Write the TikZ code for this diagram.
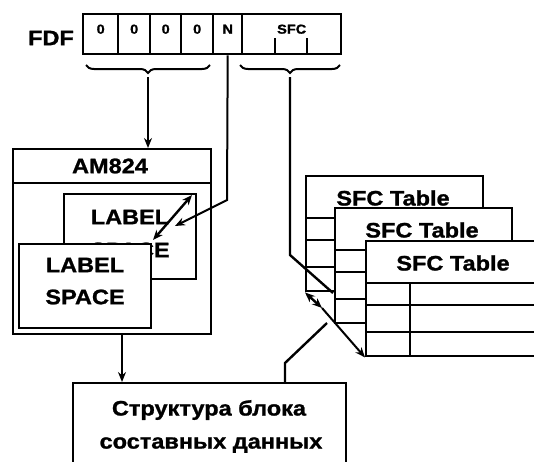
\documentclass[tikz,border=0pt]{standalone}
\usepackage{fontspec}
\setmainfont{Liberation Sans}[FakeStretch=1.12,BoldFeatures={FakeBold=1.2}]
\usetikzlibrary{decorations.pathreplacing,arrows.meta}
\begin{document}
\begin{tikzpicture}[x=1pt,y=-1pt,
  lw/.style={line width=2.4pt},
  box/.style={draw,line width=2.4pt,inner sep=0pt},
  big/.style={font=\fontsize{21}{23}\selectfont\bfseries,inner sep=0pt},
  tbl/.style={font=\fontsize{21}{23}\selectfont\bfseries,inner sep=0pt},
  small/.style={font=\fontsize{13}{14}\selectfont\bfseries,inner sep=0pt},
  arr/.style={line width=2pt,-{Stealth[length=10pt,width=8pt]}},
  darr/.style={line width=2.4pt,{Stealth[length=10pt,width=8pt]}-{Stealth[length=10pt,width=8pt]}},
  brc/.style={line width=2pt,decorate,decoration={brace,mirror,amplitude=8pt}},
  sfctable/.pic={
    \node[box,fill=white,minimum width=177pt,minimum height=115pt,anchor=north west] (-frame) at (0,0) {};
    \draw[lw] (0,43) -- (177,43);
    \draw[lw] (0,65) -- (177,65);
    \draw[lw] (0,92) -- (177,92);
    \draw[lw] (45,43) -- (45,115);
    \node[tbl] (-title) at (88,23) {SFC Table};
  }
]
\fill[white] (0,0) rectangle (534,461);
\useasboundingbox (0,0) rectangle (534,461);
\clip (0,0) rectangle (534,461);

% FDF field
\node[big] (fdf) at (51,38) {FDF};
\node[box,minimum width=35pt,minimum height=40pt,anchor=north west] (c1) at (82,13) {};
\node[box,minimum width=32pt,minimum height=40pt,anchor=north west] (c2) at (117,13) {};
\node[box,minimum width=31pt,minimum height=40pt,anchor=north west] (c3) at (149,13) {};
\node[box,minimum width=32pt,minimum height=40pt,anchor=north west] (c4) at (180,13) {};
\node[box,minimum width=29pt,minimum height=40pt,anchor=north west] (cN) at (212,13) {};
\node[box,minimum width=99pt,minimum height=40pt,anchor=north west] (cS) at (241,13) {};
\node[small] (t1x) at ([yshift=5pt]c1.center) {0};
\node[small] (t2x) at ([yshift=5pt]c2.center) {0};
\node[small] (t3x) at ([yshift=5pt]c3.center) {0};
\node[small] (t4x) at ([yshift=5pt]c4.center) {0};
\node[small] (tNx) at ([yshift=5pt]cN.center) {N};
\node[small] (tSx) at ([yshift=5pt]cS.center) {SFC};
\draw[line width=1.8pt] (275,38) -- (275,53);
\draw[line width=1.8pt] (307,38) -- (307,53);

% braces
\draw[brc] (86,65) -- (210,65);
\draw[brc] (240,65) -- (340,65);
\coordinate (b1) at (148,77);
\coordinate (b2) at (290,77);

% AM824 block
\node[box,minimum width=198pt,minimum height=185pt,anchor=north west] (am) at (12,148) {};
\draw[lw] (am.north west) ++(0,35) -- ++(198,0);
\node[big] (amt) at (110,166) {AM824};
\node[box,minimum width=132pt,minimum height=85pt,anchor=north west] (lb) at (63,193) {};
\node[big] (lbt1) at (130,217) {LABEL};
\node[big] (lbt2) at (130,250) {SPACE};
\coordinate (d1) at (192,195);
\coordinate (d2) at (153,240);
\draw[darr] (d1) -- (d2);
\node[box,fill=white,minimum width=132pt,minimum height=84pt,anchor=north west] (lf) at (18,243) {};
\node[big] (lft1) at (85,265) {LABEL};
\node[big] (lft2) at (85,297) {SPACE};

% bottom box
\node[box,minimum width=273pt,minimum height=100pt,anchor=north west] (bot) at (72,382) {};
\node[big] (bt1) at (209,410) {Структура блока};
\node[big] (bt2) at (211,445) {составных данных};

% SFC tables
\pic (tA) at (305,175) {sfctable};
\pic (tB) at (334,207) {sfctable};
\pic (tC) at (365,240) {sfctable};

% connectors
\draw[arr] (b1) -- (am.north -| b1);
\coordinate (nb) at (227,200);
\coordinate (na) at (175,226);
\draw[arr] (cN.south) -- (nb) -- (na);
\coordinate (p1) at (122,0);
\draw[arr] (am.south -| p1) -- (bot.north -| p1);
\coordinate (p2) at (285,0);
\coordinate (q1) at (285,363);
\coordinate (q2) at (327,323);
\draw[lw] (bot.north -| p2) -- (q1) -- (q2);
\coordinate (s1) at (290,255);
\coordinate (s2) at (333,293);
\draw[lw] (b2) -- (s1) -- (s2);
\coordinate (m1) at (322,308);
\draw[darr] (tA-frame.south west) -- (m1);
\draw[arr] (m1) -- (tC-frame.south west);
\end{tikzpicture}
\end{document}
